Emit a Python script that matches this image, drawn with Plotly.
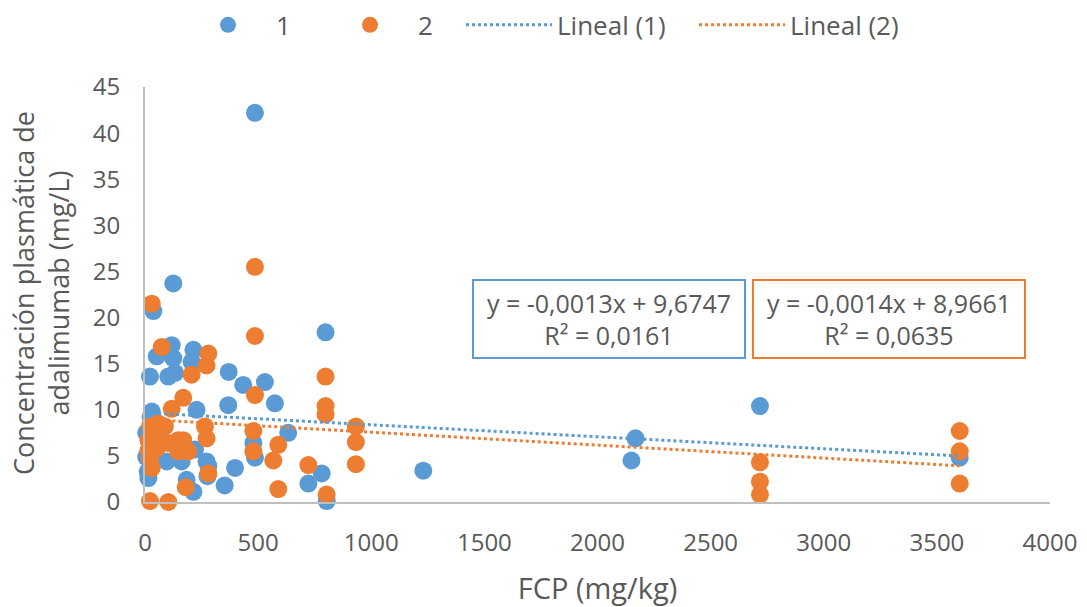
import plotly.graph_objects as go

# Series 1 (blue)
x1 = [486, 125, 37, 798, 118, 52, 125, 214, 206, 22, 103, 133, 370, 434, 530, 574,
      30, 25, 228, 368, 633, 479, 486, 398, 352, 272, 280, 276, 184, 214, 162, 96,
      221, 722, 781, 803, 5, 5, 12, 15, 60, 140, 1230, 2150, 2168, 2718, 3601]
y1 = [42.2, 23.7, 20.7, 18.4, 17.0, 15.8, 15.6, 16.5, 15.2, 13.6, 13.6, 14.0, 14.1, 12.7, 13.0, 10.7,
      9.8, 9.2, 10.0, 10.5, 7.5, 6.4, 4.8, 3.7, 1.8, 4.4, 3.9, 2.8, 2.4, 1.1, 4.4, 4.4,
      5.7, 2.0, 3.1, 0.1, 7.5, 4.9, 3.3, 2.6, 7.0, 6.2, 3.4, 4.5, 6.9, 10.4, 4.8]

# Series 2 (orange)
x2 = [30, 486, 486, 74, 280, 272, 206, 169, 118, 486, 798, 798, 798, 265, 272, 479,
      479, 589, 567, 589, 722, 803, 22, 59, 88, 15, 52, 15, 52, 103, 147, 169,
      147, 191, 30, 22, 280, 180, 22, 103, 932, 932, 932, 2718, 2718, 2718, 3601, 3601, 3601]
y2 = [21.5, 25.5, 18.0, 16.8, 16.1, 14.8, 13.8, 11.3, 10.1, 11.6, 13.6, 10.4, 9.5, 8.2, 6.9, 7.7,
      5.5, 6.2, 4.5, 1.4, 4.0, 0.8, 8.2, 8.5, 8.2, 6.7, 6.7, 5.6, 5.8, 6.4, 6.7, 6.7,
      5.5, 5.5, 3.7, 4.7, 3.1, 1.6, 0.1, 0.0, 8.2, 6.5, 4.1, 4.3, 2.2, 0.8, 7.7, 5.5, 2.0]

# Trendline coefficients (as shown in the chart)
slope1, icpt1, r2_1 = -0.0013, 9.6747, 0.0161
slope2, icpt2, r2_2 = -0.0014, 8.9661, 0.0635

BLUE = "#5B9BD5"
ORANGE = "#ED7D31"
TXT = "#595959"
FONT = "Open Sans"
TICK_SIZE = 24
TEXT_SIZE = 27

tx1 = [min(x1), max(x1)]
ty1 = [slope1 * v + icpt1 for v in tx1]
tx2 = [min(x2), max(x2)]
ty2 = [slope2 * v + icpt2 for v in tx2]

fig = go.Figure()
fig.add_trace(go.Scatter(x=x1, y=y1, mode="markers", name="1", legend="legend",
                         marker=dict(color=BLUE, size=18), cliponaxis=False))
fig.add_trace(go.Scatter(x=x2, y=y2, mode="markers", name="2", legend="legend",
                         marker=dict(color=ORANGE, size=18), cliponaxis=False))
fig.add_trace(go.Scatter(x=tx1, y=ty1, mode="lines", name="Lineal (1)", legend="legend2",
                         line=dict(color=BLUE, width=3, dash="dot")))
fig.add_trace(go.Scatter(x=tx2, y=ty2, mode="lines", name="Lineal (2)", legend="legend2",
                         line=dict(color=ORANGE, width=3, dash="dot")))

def fmt(v, nd):
    return f"{v:.{nd}f}".replace(".", ",")

eq1 = f"y = {fmt(slope1,4)}x + {fmt(icpt1,4)}<br>R² = {fmt(r2_1,4)}"
eq2 = f"y = {fmt(slope2,4)}x + {fmt(icpt2,4)}<br>R² = {fmt(r2_2,4)}"

for txt, col, xc in [(eq1, BLUE, 0.5127), (eq2, ORANGE, 0.822)]:
    fig.add_annotation(xref="paper", yref="paper", x=xc, y=0.441, xanchor="center",
                       yanchor="middle", text=txt,
                       showarrow=False, font=dict(family=FONT, size=25, color=TXT),
                       bordercolor=col, borderwidth=2, borderpad=4,
                       width=262, height=68, align="center", bgcolor="white")

# Y-axis title (two lines, rotated)
fig.add_annotation(xref="paper", yref="paper", x=(41 - 145) / 905, y=0.5036,
                   xanchor="center", yanchor="middle", textangle=-90, showarrow=False,
                   text="Concentración plasmática de<br>adalimumab (mg/L)",
                   font=dict(family=FONT, size=TEXT_SIZE, color=TXT), align="center")

legend_common = dict(orientation="h", yref="container", y=0.959, yanchor="middle",
                     xref="container", xanchor="left",
                     font=dict(family=FONT, size=TEXT_SIZE - 1, color=TXT), itemwidth=86,
                     traceorder="normal", bgcolor="rgba(0,0,0,0)")

fig.update_layout(
    width=1087, height=607,
    margin=dict(l=145, r=37, t=87, b=105, autoexpand=False),
    paper_bgcolor="white", plot_bgcolor="white",
    font=dict(family=FONT, size=TICK_SIZE, color=TXT),
    showlegend=True,
    legend=dict(legend_common, x=180 / 1087, entrywidth=41),
    legend2=dict(legend_common, x=461 / 1087, entrywidth=132),
    xaxis=dict(range=[0, 4000], dtick=500, showgrid=False, zeroline=False,
               showline=True, linecolor="#BFBFBF", linewidth=2, ticks="",
               ticklabelstandoff=18, tickfont=dict(size=TICK_SIZE),
               title=dict(text="FCP (mg/kg)", standoff=22,
                          font=dict(family=FONT, size=TEXT_SIZE + 2, color=TXT))),
    yaxis=dict(range=[0, 45], dtick=5, showgrid=False, zeroline=False,
               showline=True, linecolor="#BFBFBF", linewidth=2, ticks="",
               ticklabelstandoff=18, tickfont=dict(size=TICK_SIZE)),
)

fig.write_html("out.html")
